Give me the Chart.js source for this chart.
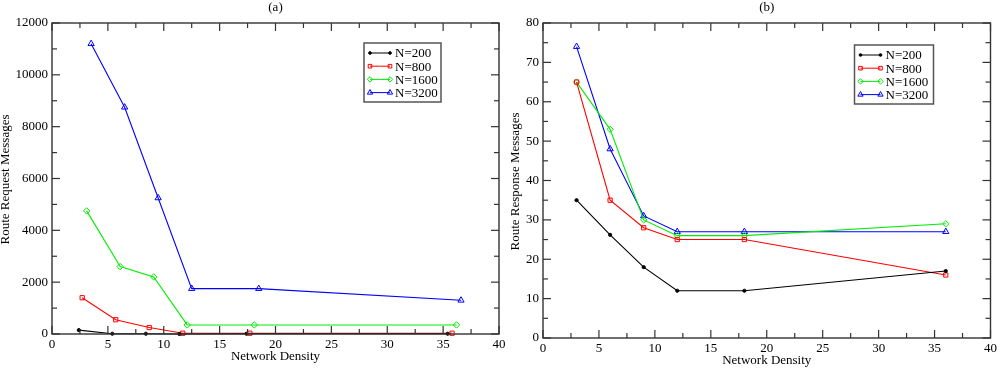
<!DOCTYPE html>
<html>
<head>
<meta charset="utf-8">
<script src="https://cdn.jsdelivr.net/npm/chart.js@4/dist/chart.umd.min.js"></script>
<style>
  body { margin: 0; background: #fff; width: 1000px; height: 368px; position: relative; overflow: hidden; }
  #wrapA { position: absolute; left: 0; top: 0; z-index: 2; }
  #wrapB { position: absolute; left: 500px; top: 0; z-index: 1; }
</style>
</head>
<body>
<div id="wrapA"><canvas id="chartA" width="520" height="368"></canvas></div>
<div id="wrapB"><canvas id="chartB" width="500" height="368"></canvas></div>
<script>
const seriesLabels = ["N=200", "N=800", "N=1600", "N=3200"];

// (a) route request messages
const reqX200 = [2.4, 5.4, 8.4, 11.4, 17.4, 35.4];
const reqY200 = [150, 10, 10, 0, 10, 10];
const reqX800 = [2.7, 5.7, 8.7, 11.7, 17.7, 35.8];
const reqY800 = [1400, 550, 250, 30, 30, 30];
const reqX1600 = [3.1, 6.1, 9.1, 12.1, 18.1, 36.2];
const reqY1600 = [4750, 2600, 2200, 350, 350, 350];
const reqX3200 = [3.5, 6.5, 9.5, 12.5, 18.5, 36.6];
const reqY3200 = [11200, 8750, 5250, 1750, 1750, 1300];

// (b) route response messages
const densityB = [3, 6, 9, 12, 18, 36];
const resY200 = [35, 26.2, 18, 12, 12, 17];
const resY800 = [65, 35, 28, 25, 25, 16];
const resY1600 = [65, 53, 30, 26, 26, 29];
const resY3200 = [74, 48, 31, 27, 27, 27];

const styles = [
  { color: "#000000", pointStyle: "circle", radius: 1.6, fill: "#000000" },
  { color: "#ff0000", pointStyle: "rect", radius: 3, fill: "rgba(255,255,255,0)" },
  { color: "#00ee00", pointStyle: "rectRot", radius: 3.2, fill: "rgba(255,255,255,0)" },
  { color: "#0000ff", pointStyle: "triangle", radius: 3.6, fill: "rgba(255,255,255,0)" }
];

Chart.defaults.font.family = '"Liberation Serif", "Times New Roman", serif';
Chart.defaults.font.size = 13;
Chart.defaults.color = "#000";

function toPoints(xs, ys) {
  return xs.map((x, i) => ({ x: x, y: ys[i] }));
}

function makeDatasets(pairs) {
  return pairs.map((p, i) => ({
    label: seriesLabels[i],
    data: toPoints(p[0], p[1]),
    showLine: true,
    borderColor: styles[i].color,
    backgroundColor: styles[i].fill,
    pointBorderColor: styles[i].color,
    pointBackgroundColor: styles[i].fill,
    pointStyle: styles[i].pointStyle,
    pointRadius: styles[i].radius,
    pointBorderWidth: 1,
    borderWidth: 1.1,
    clip: 6
  }));
}

function line(ctx, x1, y1, x2, y2) {
  ctx.beginPath();
  ctx.moveTo(x1, y1);
  ctx.lineTo(x2, y2);
  ctx.stroke();
}

const framePlugin = {
  id: "frame",
  afterDraw(chart, args, o) {
    const ctx = chart.ctx;
    const a = chart.chartArea;
    const x = chart.scales.x, y = chart.scales.y;
    ctx.save();
    ctx.strokeStyle = "#333";
    ctx.lineWidth = 1.4;
    ctx.strokeRect(a.left, a.top, a.right - a.left, a.bottom - a.top);

    // inward ticks on all four sides
    ctx.lineWidth = 1.2;
    const nx = Math.round((x.max - x.min) / o.xMinor);
    for (let i = 0; i <= nx; i++) {
      const px = x.getPixelForValue(x.min + i * o.xMinor);
      const len = i % 2 === 0 ? 8 : 5;
      line(ctx, px, a.bottom, px, a.bottom - len);
      line(ctx, px, a.top, px, a.top + len);
    }
    const ny = Math.round((y.max - y.min) / o.yMinor);
    for (let i = 0; i <= ny; i++) {
      const py = y.getPixelForValue(y.min + i * o.yMinor);
      const len = i % 2 === 0 ? 8 : 5;
      line(ctx, a.left, py, a.left + len, py);
      line(ctx, a.right, py, a.right - len, py);
    }

    // titles
    ctx.fillStyle = "#000";
    ctx.font = '13px "Liberation Serif", serif';
    ctx.textAlign = "center";
    ctx.textBaseline = "middle";
    const cx = (a.left + a.right) / 2;
    ctx.fillText(o.title, cx, 8);
    ctx.fillText(o.xTitle, cx, o.xTitleY);
    ctx.save();
    ctx.translate(o.yTitleX, (a.top + a.bottom) / 2 + 1);
    ctx.rotate(-Math.PI / 2);
    ctx.fillText(o.yTitle, 0, 0);
    ctx.restore();

    // legend box
    const bw = o.legendW, bh = 59;
    const bx = a.right - o.legendRight - bw;
    const by = a.top + o.legendTop;
    ctx.fillStyle = "#fff";
    ctx.fillRect(bx, by, bw, bh);
    ctx.strokeStyle = "#555";
    ctx.lineWidth = 1.5;
    ctx.strokeRect(bx, by, bw, bh);
    ctx.textAlign = "left";
    chart.data.datasets.forEach((ds, i) => {
      const ry = by + 10 + i * 13.2;
      ctx.strokeStyle = ds.borderColor;
      ctx.lineWidth = 1;
      line(ctx, bx + 6, ry, bx + 26, ry);
      [bx + 6, bx + 26].forEach(mx => {
        ctx.fillStyle = ds.pointBackgroundColor;
        Chart.helpers.drawPoint(ctx, {
          pointStyle: ds.pointStyle, radius: ds.pointRadius * 0.85, rotation: 0, borderWidth: 1
        }, mx, ry);
      });
      ctx.fillStyle = "#000";
      ctx.fillText(ds.label, bx + 31, ry + 1);
    });
    ctx.restore();
  }
};

function makeChart(id, datasets, cfg) {
  return new Chart(document.getElementById(id), {
    type: "scatter",
    data: { datasets: datasets },
    options: {
      responsive: false,
      animation: false,
      layout: { padding: { left: 0, right: cfg.padRight, top: 23, bottom: 0 } },
      plugins: {
        legend: { display: false },
        tooltip: { enabled: false },
        frame: cfg.frame
      },
      scales: {
        x: {
          type: "linear", min: 0, max: 40,
          grid: { display: false, drawTicks: false },
          border: { display: false },
          ticks: { stepSize: 5, padding: 3, maxRotation: 0, autoSkip: false, callback: v => String(v) },
          afterFit: s => { s.height = cfg.xHeight; }
        },
        y: {
          type: "linear", min: 0, max: cfg.yMax,
          grid: { display: false, drawTicks: false },
          border: { display: false },
          ticks: { stepSize: cfg.yStep, padding: 4, autoSkip: false, callback: v => String(v) },
          afterFit: s => { s.width = cfg.yWidth; }
        }
      }
    },
    plugins: [framePlugin]
  });
}

makeChart("chartA", makeDatasets([
  [reqX200, reqY200], [reqX800, reqY800], [reqX1600, reqY1600], [reqX3200, reqY3200]
]), {
  padRight: 21, xHeight: 34, yWidth: 52, yMax: 12000, yStep: 2000,
  frame: {
    title: "(a)", xTitle: "Network Density", yTitle: "Route Request Messages",
    xTitleY: 357, yTitleX: 6, xMinor: 2.5, yMinor: 1000,
    legendW: 77, legendRight: 58, legendTop: 20
  }
});

makeChart("chartB", makeDatasets([
  [densityB, resY200], [densityB, resY800], [densityB, resY1600], [densityB, resY3200]
]), {
  padRight: 7, xHeight: 30, yWidth: 43, yMax: 80, yStep: 10,
  frame: {
    title: "(b)", xTitle: "Network Density", yTitle: "Route Response Messages",
    xTitleY: 361, yTitleX: 15.5, xMinor: 2.5, yMinor: 5,
    legendW: 79, legendRight: 57, legendTop: 22
  }
});
</script>
</body>
</html>
